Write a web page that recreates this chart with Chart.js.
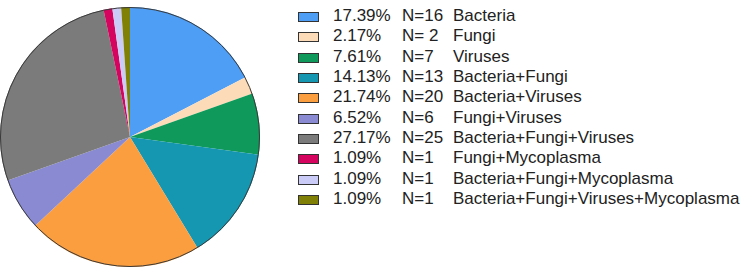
<!DOCTYPE html>
<html>
<head>
<meta charset="utf-8">
<script src="https://cdn.jsdelivr.net/npm/chart.js@4/dist/chart.umd.min.js"></script>
<style>
  html, body { margin: 0; padding: 0; background: #fff; }
  #wrap { position: relative; width: 750px; height: 273px; overflow: hidden; }
  #pieBox { position: absolute; left: 0; top: 7px; width: 260px; height: 260px; }
  #legend { position: absolute; left: 297px; top: 6px; font-family: "Liberation Sans", Arial, sans-serif; font-size: 17px; color: #222; }
  .row { position: relative; height: 20.35px; line-height: 20.35px; white-space: nowrap; }
  .box { position: absolute; left: 1px; top: 6px; width: 19px; height: 8px; border: 1px solid #333; }
  .pct { position: absolute; left: 36px; }
  .n { position: absolute; left: 105px; }
  .lab { position: absolute; left: 156px; }
</style>
</head>
<body>
<div id="wrap">
  <div id="pieBox"><canvas id="pie" width="260" height="260"></canvas></div>
  <div id="legend"></div>
</div>
<script>
const categories = ["Bacteria", "Fungi", "Viruses", "Bacteria+Fungi", "Bacteria+Viruses",
  "Fungi+Viruses", "Bacteria+Fungi+Viruses", "Fungi+Mycoplasma",
  "Bacteria+Fungi+Mycoplasma", "Bacteria+Fungi+Viruses+Mycoplasma"];
const counts = [16, 2, 7, 13, 20, 6, 25, 1, 1, 1];
const percents = ["17.39%", "2.17%", "7.61%", "14.13%", "21.74%", "6.52%", "27.17%", "1.09%", "1.09%", "1.09%"];
const nLabels = ["N=16", "N= 2", "N=7", "N=13", "N=20", "N=6", "N=25", "N=1", "N=1", "N=1"];
const colors = ["#4f9ef5", "#fcdcb8", "#0f995b", "#1597b1", "#fb9e3f", "#8a8ad2", "#7b7b7b", "#d4045f", "#cbcbf7", "#7f8005"];

// legend rows
const legend = document.getElementById('legend');
categories.forEach((cat, i) => {
    const row = document.createElement('div');
    row.className = 'row';
    row.innerHTML = '<span class="box" style="background:' + colors[i] + '"></span>' +
        '<span class="pct">' + percents[i] + '</span>' +
        '<span class="n">' + nLabels[i] + '</span>' +
        '<span class="lab">' + cat + '</span>';
    legend.appendChild(row);
});

// thin dark outline round the pie
const outline = {
    id: 'outline',
    afterDatasetsDraw(chart) {
        const arc = chart.getDatasetMeta(0).data[0];
        if (!arc) return;
        const ctx = chart.ctx;
        ctx.save();
        ctx.beginPath();
        ctx.arc(arc.x, arc.y, arc.outerRadius - 0.5, 0, Math.PI * 2);
        ctx.strokeStyle = '#3a3a3a';
        ctx.lineWidth = 1;
        ctx.stroke();
        ctx.restore();
    }
};

new Chart(document.getElementById('pie').getContext('2d'), {
    type: 'pie',
    data: {
        labels: categories,
        datasets: [{
            data: counts,
            backgroundColor: colors,
            borderWidth: 0
        }]
    },
    options: {
        responsive: false,
        animation: false,
        layout: { padding: 0 },
        plugins: {
            legend: { display: false },
            tooltip: { enabled: false }
        }
    },
    plugins: [outline]
});
</script>
</body>
</html>
